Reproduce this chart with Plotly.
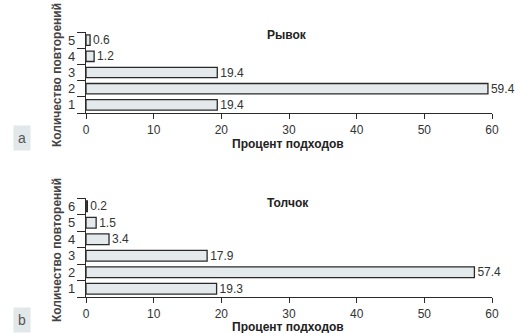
import plotly.graph_objects as go

cats_a = [1, 2, 3, 4, 5]
vals_a = [19.4, 59.4, 19.4, 1.2, 0.6]
cats_b = [1, 2, 3, 4, 5, 6]
vals_b = [19.3, 57.4, 17.9, 3.4, 1.5, 0.2]
title_a = "Рывок"
title_b = "Толчок"
xlabel = "Процент подходов"
ylabel = "Количество повторений"

W, H = 521, 333
bar_fill = "#e4eaeb"
ink = "#2a2a2a"
font_fam = "Liberation Sans, Arial, sans-serif"

fig = go.Figure()
for cats, vals, xa, ya in [(cats_a, vals_a, "x", "y"), (cats_b, vals_b, "x2", "y2")]:
    fig.add_trace(go.Bar(
        x=vals, y=cats, orientation="h", xaxis=xa, yaxis=ya,
        marker=dict(color=bar_fill, line=dict(color=ink, width=1.3)),
        width=0.64,
        text=[f"{v:.1f}" for v in vals], textposition="outside",
        constraintext="none",
        textfont=dict(size=12, color="#333", family=font_fam),
        cliponaxis=False, showlegend=False,
    ))

def xaxis(anchor):
    return dict(domain=[86 / W, 492 / W], anchor=anchor, range=[0, 60],
                automargin=False,
                tickvals=[0, 10, 20, 30, 40, 50, 60], ticks="outside", ticklen=5,
                tickcolor=ink, tickwidth=1.3, showline=True, linecolor=ink, linewidth=1.3,
                showgrid=False, zeroline=False,
                tickfont=dict(size=12, color="#333", family=font_fam))

def yaxis(dom, n, anchor):
    return dict(domain=dom, anchor=anchor, range=[0.5, n + 0.5],
                automargin=False,
                tickvals=list(range(1, n + 1)), ticks="", showline=True,
                ticklabelstandoff=7,
                linecolor=ink, linewidth=1.3, showgrid=False, zeroline=False,
                tickfont=dict(size=13, color="#333", family=font_fam),
                minor=dict(tickvals=[i + 0.5 for i in range(0, n + 1)], ticks="outside",
                           ticklen=8, tickcolor=ink, tickwidth=1.3))

fig.update_layout(
    width=W, height=H, margin=dict(l=0, r=0, t=0, b=0),
    paper_bgcolor="white", plot_bgcolor="white",
    xaxis=xaxis("y"), yaxis=yaxis([220 / H, 301 / H], 5, "x"),
    xaxis2=xaxis("y2"), yaxis2=yaxis([36 / H, 135 / H], 6, "x2"),
)

def ann(text, x, y, size=12, color="#222", angle=0, **kw):
    fig.add_annotation(xref="paper", yref="paper", showarrow=False, text=text,
                       x=x / W, y=(H - y) / H, xanchor="center", yanchor="middle",
                       textangle=angle,
                       font=dict(size=size, color=color, family=font_fam), **kw)

ann(f"<b>{title_a}</b>", 287, 35)
ann(f"<b>{title_b}</b>", 288, 203)
ann(f"<b>{xlabel}</b>", 288, 144, borderpad=0)
ann(f"<b>{xlabel}</b>", 288, 327, borderpad=0)
ann(f"<b>{ylabel}</b>", 57, 75, color="#444", angle=-90)
ann(f"<b>{ylabel}</b>", 57, 250, color="#444", angle=-90)
for letter, yc in [("a", 138), ("b", 320)]:
    ann(letter, 22, yc, size=14, color="#555", bgcolor="#e2e8ea", borderpad=4)

fig.write_html("out.html")
